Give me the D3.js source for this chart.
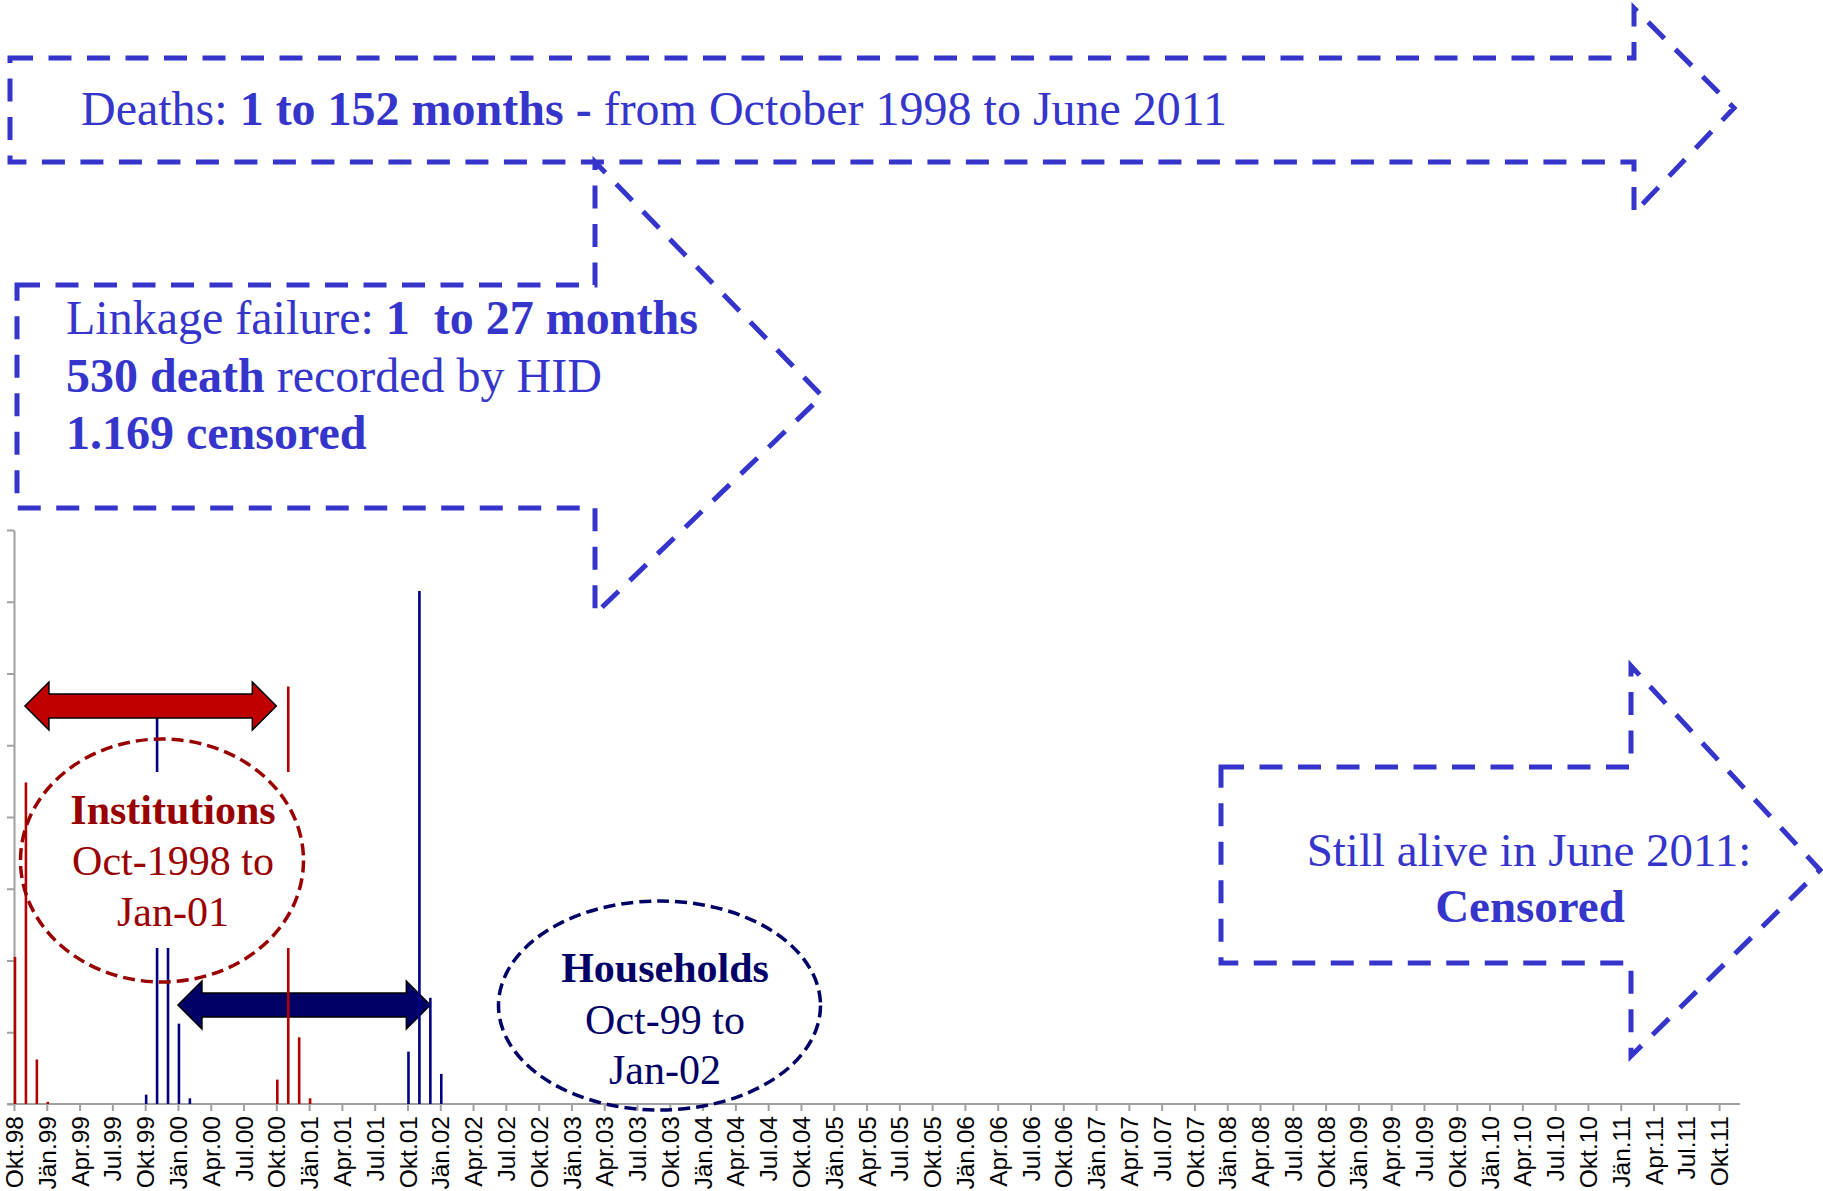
<!DOCTYPE html>
<html>
<head>
<meta charset="utf-8">
<script src="https://cdn.jsdelivr.net/npm/d3@7"></script>
<style>
  html, body { margin: 0; padding: 0; background: #fff; }
  svg { display: block; }
  .pre { white-space: pre; }
</style>
</head>
<body>
<div id="chart"></div>
<script>
// Etiquetas trimestrales del eje X (una cada 3 meses, desde Okt.98)
const tickLabels = [
  'Okt.98','Jän.99','Apr.99','Jul.99','Okt.99','Jän.00','Apr.00','Jul.00','Okt.00',
  'Jän.01','Apr.01','Jul.01','Okt.01','Jän.02','Apr.02','Jul.02','Okt.02',
  'Jän.03','Apr.03','Jul.03','Okt.03','Jän.04','Apr.04','Jul.04','Okt.04',
  'Jän.05','Apr.05','Jul.05','Okt.05','Jän.06','Apr.06','Jul.06','Okt.06',
  'Jän.07','Apr.07','Jul.07','Okt.07','Jän.08','Apr.08','Jul.08','Okt.08',
  'Jän.09','Apr.09','Jul.09','Okt.09','Jän.10','Apr.10','Jul.10','Okt.10',
  'Jän.11','Apr.11','Jul.11','Okt.11'
];

// Institutions (rojo): mes desde Okt.98 -> valor
const instMonths = [0, 1, 2, 3, 24, 25, 26, 27];
const instValues = [20.5, 44.8, 6.2, 0.3, 3.4, 58.2, 9.3, 0.8];

// Households (azul)
const hhMonths = [12, 13, 14, 15, 16, 36, 37, 38, 39];
const hhValues = [1.3, 53.8, 40, 11.2, 0.8, 7.3, 71.5, 14.8, 4.2];

const W = 1823, H = 1191;
const blue = '#3535CC', red = '#990000', navy = '#000066';

const svg = d3.select('#chart').append('svg')
  .attr('width', W).attr('height', H);

const x = d3.scaleLinear().domain([0, 158]).range([14, 14 + 158 * 10.93]);
const y = d3.scaleLinear().domain([0, 80]).range([1104, 530]);

// Eje Y (sin etiquetas)
const yAxis = svg.append('g')
  .attr('transform', `translate(${x(0)},0)`)
  .call(d3.axisLeft(y).tickValues(d3.range(0, 81, 10)).tickSize(7).tickSizeOuter(0).tickFormat(''));
yAxis.selectAll('path, line').attr('stroke', '#a0a0a0').attr('stroke-width', 2);

// Eje X
const xAxis = svg.append('g')
  .attr('transform', `translate(0,${y(0)})`)
  .call(d3.axisBottom(x).tickValues(d3.range(0, 157, 3)).tickSize(7).tickSizeOuter(0)
    .tickFormat((d, i) => tickLabels[i]));
xAxis.select('.domain').remove();
xAxis.selectAll('line').attr('stroke', '#a0a0a0').attr('stroke-width', 2);
xAxis.selectAll('text')
  .attr('transform', 'rotate(-90)')
  .attr('x', -12).attr('y', 0).attr('dy', '0.35em')
  .attr('text-anchor', 'end')
  .attr('fill', '#000')
  .attr('font-family', "'Liberation Sans', Arial, sans-serif")
  .attr('font-size', '24.5px');
svg.append('line')
  .attr('x1', 7).attr('x2', 1740)
  .attr('y1', y(0)).attr('y2', y(0))
  .attr('stroke', '#a0a0a0').attr('stroke-width', 2);

// Flecha doble
function doubleArrow(x0, x1, cy, fill) {
  const hw = 24, sh = 12, hl = 24;
  const pts = [
    [x0, cy], [x0 + hl, cy - hw], [x0 + hl, cy - sh], [x1 - hl, cy - sh], [x1 - hl, cy - hw],
    [x1, cy], [x1 - hl, cy + hw], [x1 - hl, cy + sh], [x0 + hl, cy + sh], [x0 + hl, cy + hw]
  ];
  svg.append('polygon')
    .attr('points', pts.map(p => p.join(',')).join(' '))
    .attr('fill', fill).attr('stroke', '#000').attr('stroke-width', 1.5);
}

doubleArrow(x(15), x(38) + 1, 1005, navy);

// Barras
function bars(months, values, color) {
  svg.append('g').selectAll('line')
    .data(months.map((m, i) => ({ m, v: values[i] })))
    .join('line')
    .attr('x1', d => x(d.m) + 1).attr('x2', d => x(d.m) + 1)
    .attr('y1', y(0)).attr('y2', d => y(d.v))
    .attr('stroke', color).attr('stroke-width', 2.6);
}
bars(instMonths, instValues, '#b00000');
bars(hhMonths, hhValues, '#000080');

doubleArrow(x(1), x(24), 706, '#c00000');

// Caja blanca del texto de Institutions
svg.append('rect').attr('x', 35).attr('y', 772).attr('width', 265).attr('height', 176).attr('fill', '#fff');

// Elipses
svg.append('ellipse')
  .attr('cx', 162).attr('cy', 860.5).attr('rx', 141.5).attr('ry', 121.5)
  .attr('fill', 'none').attr('stroke', red).attr('stroke-width', 3.5)
  .attr('stroke-dasharray', '12 6');
svg.append('ellipse')
  .attr('cx', 659.5).attr('cy', 1005.5).attr('rx', 161).attr('ry', 104.5)
  .attr('fill', 'none').attr('stroke', navy).attr('stroke-width', 3.5)
  .attr('stroke-dasharray', '12 6');

const serif = "'Liberation Serif', 'Times New Roman', serif";

function centered(lines, cx, color, size) {
  lines.forEach(l => {
    svg.append('text')
      .attr('x', cx).attr('y', l.y)
      .attr('text-anchor', 'middle')
      .attr('font-family', serif).attr('font-size', size + 'px')
      .attr('font-weight', l.bold ? 700 : 400)
      .attr('fill', color)
      .text(l.t);
  });
}
centered([
  { t: 'Institutions', y: 824, bold: true },
  { t: 'Oct-1998 to', y: 875 },
  { t: 'Jan-01', y: 926 }
], 173, red, 42);
centered([
  { t: 'Households', y: 982, bold: true },
  { t: 'Oct-99 to', y: 1034 },
  { t: 'Jan-02', y: 1084 }
], 665, navy, 42);

// Flechas azules punteadas
function blockArrow(x0, top, bot, nx, headTop, headBot, tipX, tipY) {
  const pts = [[x0, top], [nx, top], [nx, headTop], [tipX, tipY], [nx, headBot], [nx, bot], [x0, bot]];
  svg.append('polygon')
    .attr('points', pts.map(p => p.join(',')).join(' '))
    .attr('fill', 'none').attr('stroke', blue).attr('stroke-width', 5)
    .attr('stroke-dasharray', '23 15.5');
}
blockArrow(10, 58, 162, 1634, 8, 213, 1734, 108);
blockArrow(17, 285, 508, 595, 162, 614, 822, 396);
blockArrow(1221, 767, 963, 1631, 666, 1056, 1820, 870);

// Textos con partes en negrita
function richText(xp, yp, parts, size) {
  const t = svg.append('text')
    .attr('x', xp).attr('y', yp)
    .attr('font-family', serif).attr('font-size', size + 'px')
    .attr('fill', blue).attr('class', 'pre');
  parts.forEach(p => t.append('tspan').attr('font-weight', p[1] ? 700 : 400).text(p[0]));
}
richText(81, 124.5, [['Deaths: ', false], ['1 to 152 months -', true], [' from October 1998 to June 2011', false]], 48);
richText(66, 334, [['Linkage failure: ', false], ['1  to 27 months', true]], 48);
richText(66, 391.5, [['530 death', true], [' recorded by HID', false]], 48);
richText(66, 448.5, [['1.169 censored', true]], 48);

svg.append('text')
  .attr('x', 1529).attr('y', 866).attr('text-anchor', 'middle')
  .attr('font-family', serif).attr('font-size', '47px').attr('fill', blue)
  .text('Still alive in June 2011:');
svg.append('text')
  .attr('x', 1530).attr('y', 922).attr('text-anchor', 'middle')
  .attr('font-family', serif).attr('font-size', '47px').attr('font-weight', 700).attr('fill', blue)
  .text('Censored');
</script>
</body>
</html>
